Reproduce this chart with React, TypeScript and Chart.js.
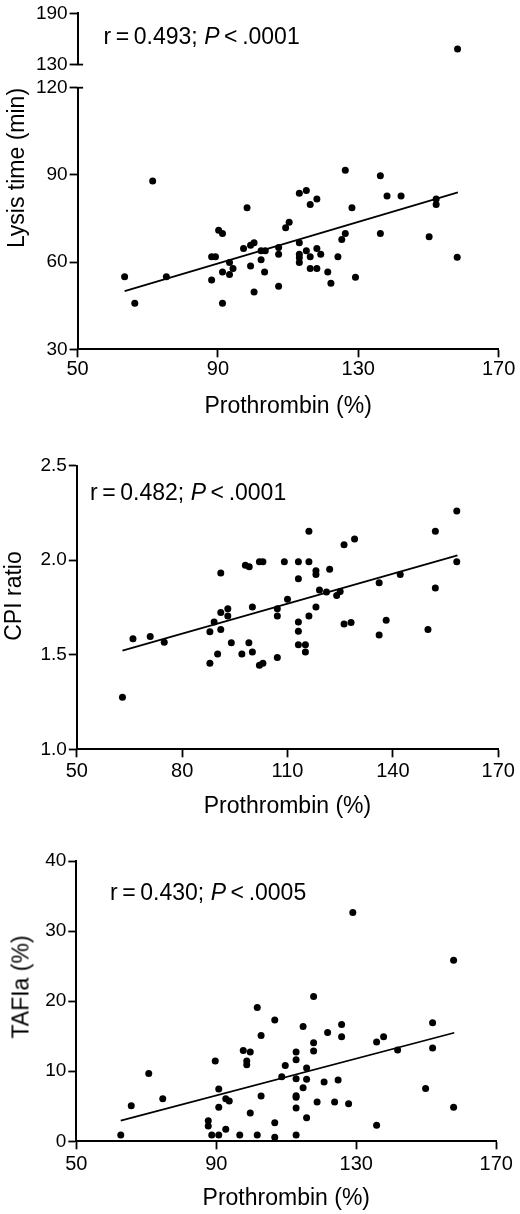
import React, { useEffect, useRef } from "react";
import { Chart, registerables } from "chart.js";

Chart.register(...registerables);

const FONT = '"Liberation Sans", Arial, Helvetica, sans-serif';

// ---------- tick values ----------
const X_TICKS_A = [50, 90, 130, 170];
const X_TICKS_B = [50, 80, 110, 140, 170];
const LYSIS_TICKS_LOW = [30, 60, 90, 120];
const LYSIS_TICKS_HIGH = [130, 190];
const CPI_TICKS = [1.0, 1.5, 2.0, 2.5];
const TAFIA_TICKS = [0, 10, 20, 30, 40];

// ---------- panel 1: Lysis time vs prothrombin ----------
const LYSIS_PT = [
  63.4, 66.3, 71.4, 75.3, 88.2, 88.2, 89.3, 90.2, 91.3, 91.3, 91.3, 93.3, 93.3, 94.3, 97.3,
  98.3, 99.3, 99.3, 100.3, 100.3, 102.3, 102.3, 103.5, 103.3, 107.3, 107.3, 107.3, 109.3, 110.3,
  113.2, 113.2, 113.2, 113.2, 113.2, 115.2, 115.2, 116.3, 116.3, 116.3, 118.2, 118.2, 118.2,
  119.3, 121.3, 122.2, 124.2, 125.3, 126.3, 126.3, 128.2, 129.2, 136.3, 136.3, 138.2, 142.2,
  150.2, 152.2, 152.2, 158.2,
];
const LYSIS_MIN = [
  55, 45.8, 87.9, 55, 53.8, 61.8, 61.8, 71.0, 69.8, 56.6, 45.8, 59.9, 55.7, 57.8, 64.7,
  78.7, 65.8, 58.7, 66.7, 49.7, 63.9, 60.8, 63.9, 56.6, 65.0, 62.7, 51.7, 71.8, 73.7,
  83.7, 66.7, 62.7, 61.5, 59.9, 84.6, 63.9, 79.8, 61.8, 57.8, 81.7, 64.7, 57.8,
  62.7, 56.6, 52.7, 61.8, 67.8, 91.6, 69.8, 78.7, 54.8, 89.7, 69.8, 82.7, 82.7,
  68.7, 81.7, 79.8, 61.7,
];
const LYSIS_OUT_PT = [158.3];
const LYSIS_OUT_MIN = [148.2];
const LYSIS_FIT_PT = [63.4, 158.4];
const LYSIS_FIT_MIN = [50.0, 84.0];

// ---------- panel 2: CPI ratio vs prothrombin ----------
const CPI_PT = [
  63.0, 66.0, 70.9, 74.9, 87.9, 87.9, 89.1, 90.1, 91.0, 91.0, 91.0, 93.0, 93.0, 94.0, 97.0,
  98.0, 99.1, 99.0, 100.0, 100.0, 102.0, 103.0, 102.0, 103.0, 107.1, 107.1, 107.1, 109.1, 110.0,
  113.1, 113.1, 113.1, 113.1, 113.1, 115.1, 115.1, 116.1, 116.1, 116.1, 118.1, 118.1, 118.1,
  119.1, 121.1, 122.0, 124.0, 125.0, 126.1, 126.1, 128.1, 129.1, 136.1, 136.1, 138.1, 142.1,
  150.0, 152.1, 152.1, 158.2, 158.2,
];
const CPI_RATIO = [
  1.275, 1.585, 1.596, 1.566, 1.455, 1.622, 1.673, 1.504, 1.932, 1.724, 1.633, 1.744, 1.705, 1.564, 1.504,
  1.973, 1.966, 1.564, 1.753, 1.515, 1.992, 1.992, 1.444, 1.455, 1.744, 1.705, 1.485, 1.992, 1.793,
  1.992, 1.902, 1.673, 1.624, 1.553, 1.553, 1.515, 2.153, 1.992, 1.705, 1.945, 1.924, 1.753,
  1.843, 1.832, 1.952, 1.813, 1.834, 2.082, 1.663, 1.671, 2.112, 1.881, 1.605, 1.682, 1.924,
  1.633, 2.153, 1.853, 2.26, 1.992,
];
const CPI_FIT_PT = [63.0, 158.4];
const CPI_FIT_RATIO = [1.522, 2.026];

// ---------- panel 3: TAFIa vs prothrombin ----------
const TAFIA_PT = [
  62.7, 65.7, 70.7, 74.7, 87.7, 87.7, 88.7, 89.7, 90.7, 90.7, 90.7, 92.7, 92.7, 93.7, 96.7,
  97.7, 98.7, 98.7, 99.7, 99.7, 101.7, 101.7, 102.8, 102.8, 106.7, 106.7, 106.7, 108.7, 109.7,
  112.8, 112.8, 112.8, 112.8, 112.8, 112.8, 112.8, 114.8, 114.8, 115.8, 115.8, 115.8,
  117.8, 117.8, 117.8, 118.8, 120.8, 121.8, 123.8, 124.8, 125.8, 125.8, 127.8, 129.0,
  135.8, 135.8, 137.8, 141.8, 149.8, 151.8, 151.8, 157.8, 157.8,
];
const TAFIA_PCT = [
  0.9, 5.08, 9.69, 6.08, 2.95, 2.19, 0.9, 11.45, 7.46, 4.85, 0.9, 6.08, 1.71, 5.75, 0.9,
  12.97, 11.45, 10.93, 12.73, 4.04, 19.1, 0.9, 15.1, 6.46, 17.3, 2.66, 0.57, 9.22, 10.83,
  12.73, 11.64, 8.93, 6.51, 6.27, 4.75, 0.9, 16.39, 7.65, 10.45, 8.84, 3.37,
  20.67, 14.06, 12.87, 5.61, 8.46, 15.53, 5.61, 8.74, 16.67, 14.92, 5.37, 32.64,
  14.16, 2.28, 14.92, 13.02, 7.55, 16.91, 13.3, 25.84, 4.85,
];
const TAFIA_FIT_PT = [62.7, 158.0];
const TAFIA_FIT_PCT = [2.95, 15.49];

// ---------- generic panel ----------
type PanelProps = {
  top: number;
  bottom: number;
  chartTop: number;
  chartBottom: number;
  chartLeft: number;
  chartRight: number;
  xMin: number;
  xMax: number;
  xTicks: number[];
  showX: boolean;
  xTickPad?: number;
  yMin: number;
  yMax: number;
  yTicks: number[];
  yDecimals: number;
  px: number[];
  py: number[];
  fx?: number[];
  fy?: number[];
  caps?: number[];
};

function Panel(p: PanelProps) {
  const ref = useRef<HTMLCanvasElement>(null);
  const height = p.bottom - p.top;
  useEffect(() => {
    const canvas = ref.current;
    if (!canvas) return;
    const xH = p.showX ? p.bottom - p.chartBottom : 0;
    const titlePad = Math.max(0, xH - 57 - 13.8);
    const datasets: any[] = [
      {
        data: p.px.map((x, i) => ({ x, y: p.py[i] })),
        pointRadius: 3.5,
        pointHoverRadius: 3.5,
        pointBackgroundColor: "#000",
        pointBorderWidth: 0,
        borderWidth: 0,
      },
    ];
    if (p.fx && p.fy) {
      datasets.push({
        data: p.fx.map((x, i) => ({ x, y: p.fy![i] })),
        showLine: true,
        borderColor: "#000",
        borderWidth: 1.7,
        pointRadius: 0,
        pointHoverRadius: 0,
        fill: false,
      });
    }
    const caps = p.caps || [];
    const capPlugin = {
      id: "breakCaps",
      afterDraw(chart: any) {
        const ctx = chart.ctx;
        const ys = chart.scales.y;
        ctx.save();
        ctx.strokeStyle = "#000";
        ctx.lineWidth = 1.8;
        caps.forEach((v) => {
          const y = ys.getPixelForValue(v);
          ctx.beginPath();
          ctx.moveTo(chart.chartArea.left - 1, y);
          ctx.lineTo(chart.chartArea.left + 5.5, y);
          ctx.stroke();
        });
        ctx.restore();
      },
    };
    const gridOpts = {
      display: true,
      drawOnChartArea: false,
      drawTicks: true,
      tickLength: 8,
      tickWidth: 1.8,
      tickColor: "#000",
    };
    const borderOpts = { display: true, color: "#000", width: 2 };
    const chart = new Chart(canvas, {
      type: "scatter",
      data: { datasets },
      plugins: [capPlugin],
      options: {
        animation: false,
        responsive: false,
        events: [],
        layout: {
          autoPadding: false,
          padding: {
            top: p.chartTop - p.top,
            left: 0,
            right: 520 - p.chartRight,
            bottom: p.showX ? 0 : p.bottom - p.chartBottom,
          },
        } as any,
        plugins: {
          legend: { display: false },
          tooltip: { enabled: false },
        },
        scales: {
          x: {
            type: "linear",
            min: p.xMin,
            max: p.xMax,
            display: p.showX,
            afterBuildTicks: (s: any) => {
              s.ticks = p.xTicks.map((v) => ({ value: v }));
            },
            afterFit: (s: any) => {
              s.height = xH;
            },
            grid: gridOpts,
            border: borderOpts,
            ticks: {
              color: "#000",
              font: { family: FONT, size: 20 },
              padding: p.xTickPad ?? 2.5,
              maxRotation: 0,
              autoSkip: false,
              callback: (v: any) => String(v),
            },
            title: {
              display: p.showX,
              text: "Prothrombin (%)",
              color: "#000",
              font: { family: FONT, size: 23 },
              padding: { top: 0, bottom: titlePad },
            },
          } as any,
          y: {
            type: "linear",
            min: p.yMin,
            max: p.yMax,
            afterBuildTicks: (s: any) => {
              s.ticks = p.yTicks.map((v) => ({ value: v }));
            },
            afterFit: (s: any) => {
              s.width = p.chartLeft;
            },
            grid: gridOpts,
            border: borderOpts,
            ticks: {
              color: "#000",
              font: { family: FONT, size: 19 },
              padding: 2,
              autoSkip: false,
              callback: (v: any) => Number(v).toFixed(p.yDecimals),
            },
          } as any,
        },
      },
    });
    return () => chart.destroy();
  }, []);
  return (
    <canvas
      ref={ref}
      width={520}
      height={height}
      style={{ position: "absolute", left: 0, top: p.top, width: 520, height, display: "block" }}
    />
  );
}

function YTitle({ text, cx, cy }: { text: string; cx: number; cy: number }) {
  return (
    <div
      style={{
        position: "absolute",
        left: cx,
        top: cy,
        transform: "translate(-50%, -50%) rotate(-90deg)",
        fontFamily: FONT,
        fontSize: 23,
        lineHeight: "23px",
        whiteSpace: "nowrap",
        color: "#000",
      }}
    >
      {text}
    </div>
  );
}

function Stat({ r, p, left, top }: { r: string; p: string; left: number; top: number }) {
  return (
    <div
      style={{
        position: "absolute",
        left,
        top,
        fontFamily: FONT,
        fontSize: 23,
        lineHeight: "23px",
        whiteSpace: "nowrap",
        color: "#000",
      }}
    >
      {"r\u2009=\u2009" + r + "; "}
      <i>P</i>
      {"\u2009<\u2009" + p}
    </div>
  );
}

export default function App() {
  return (
    <div
      style={{
        position: "absolute",
        left: 0,
        top: 0,
        width: 520,
        height: 1214,
        background: "#fff",
        overflow: "hidden",
      }}
    >
      {/* Panel 1, upper (broken) segment */}
      <Panel
        top={0}
        bottom={78}
        chartTop={9}
        chartBottom={66}
        chartLeft={77.6}
        chartRight={498.6}
        xMin={50}
        xMax={170}
        xTicks={X_TICKS_A}
        showX={false}
        yMin={130}
        yMax={190}
        yTicks={LYSIS_TICKS_HIGH}
        yDecimals={0}
        px={LYSIS_OUT_PT}
        py={LYSIS_OUT_MIN}
        caps={[130]}
      />
      {/* Panel 1, lower segment */}
      <Panel
        top={72}
        bottom={425}
        chartTop={87.7}
        chartBottom={349.3}
        chartLeft={77.6}
        chartRight={498.6}
        xMin={50}
        xMax={170}
        xTicks={X_TICKS_A}
        showX={true}
        xTickPad={0}
        yMin={30}
        yMax={120}
        yTicks={LYSIS_TICKS_LOW}
        yDecimals={0}
        px={LYSIS_PT}
        py={LYSIS_MIN}
        fx={LYSIS_FIT_PT}
        fy={LYSIS_FIT_MIN}
        caps={[120]}
      />
      {/* Panel 2 */}
      <Panel
        top={448}
        bottom={825}
        chartTop={465.7}
        chartBottom={749.3}
        chartLeft={76.8}
        chartRight={498.2}
        xMin={50}
        xMax={170}
        xTicks={X_TICKS_B}
        showX={true}
        xTickPad={2.5}
        yMin={1.0}
        yMax={2.5}
        yTicks={CPI_TICKS}
        yDecimals={1}
        px={CPI_PT}
        py={CPI_RATIO}
        fx={CPI_FIT_PT}
        fy={CPI_FIT_RATIO}
      />
      {/* Panel 3 */}
      <Panel
        top={842}
        bottom={1214}
        chartTop={861}
        chartBottom={1141.3}
        chartLeft={76.3}
        chartRight={496.3}
        xMin={50}
        xMax={170}
        xTicks={X_TICKS_A}
        showX={true}
        xTickPad={2.9}
        yMin={0}
        yMax={40}
        yTicks={TAFIA_TICKS}
        yDecimals={0}
        px={TAFIA_PT}
        py={TAFIA_PCT}
        fx={TAFIA_FIT_PT}
        fy={TAFIA_FIT_PCT}
      />

      <YTitle text="Lysis time (min)" cx={15.6} cy={168} />
      <YTitle text="CPI ratio" cx={13.4} cy={596} />
      <YTitle text="TAFIa (%)" cx={21.4} cy={987} />

      <Stat r="0.493" p=".0001" left={103.5} top={24.8} />
      <Stat r="0.482" p=".0001" left={90} top={481.4} />
      <Stat r="0.430" p=".0005" left={110} top={880.8} />
    </div>
  );
}
